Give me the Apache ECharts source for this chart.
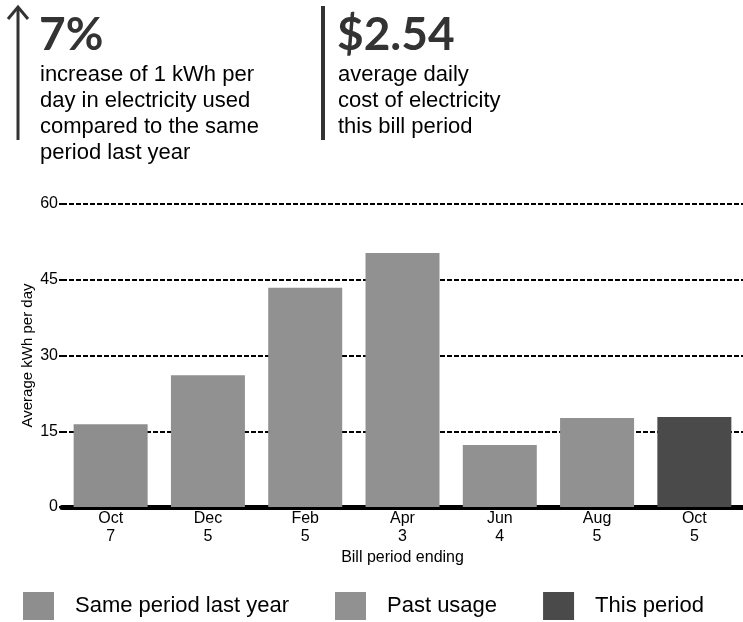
<!DOCTYPE html>
<html>
<head>
<meta charset="utf-8">
<script src="https://cdn.jsdelivr.net/npm/echarts@6/dist/echarts.min.js"></script>
<style>
  html, body { margin: 0; padding: 0; background: #fff; }
  #main { width: 743px; height: 622px; }
</style>
</head>
<body>
<div id="main"></div>
<script>
// bill periods (x axis)
var periods = ['Oct\n7', 'Dec\n5', 'Feb\n5', 'Apr\n3', 'Jun\n4', 'Aug\n5', 'Oct\n5'];
// average kWh per day, split by kind of bar
var sameLastYear = [16.4, '-', '-', '-', '-', '-', '-'];
var pastUsage    = ['-', 26.1, 43.4, 50.3, 12.3, 17.6, '-'];
var thisPeriod   = ['-', '-', '-', '-', '-', '-', 17.8];
var yTicks = { min: 0, max: 60, step: 15 };

var font = 'Liberation Sans, Arial, sans-serif';
var bigFont = 'bold 46px Lato, sans-serif';
var myChart = echarts.init(document.getElementById('main'));

function barSeries(name, values, color) {
	return {
		name: name,
		type: 'bar',
		stack: 'kwh',
		data: values,
		barWidth: 74,
		itemStyle: { color: color },
		emphasis: { disabled: true }
	};
}

myChart.setOption({
	animation: false,
	grid: { left: 62, right: -4, top: 204, bottom: 115 },
	legend: {
		left: 23, top: 592,
		padding: 0,
		itemWidth: 31, itemHeight: 28,
		itemGap: 46,
		icon: 'rect',
		textStyle: { fontFamily: font, fontSize: 22, color: '#000', padding: [2, 0, 0, 16] },
		data: ['Same period last year', 'Past usage', 'This period']
	},
	xAxis: {
		type: 'category',
		data: periods,
		name: 'Bill period ending',
		nameLocation: 'middle',
		nameGap: 43,
		nameTextStyle: { fontFamily: font, fontSize: 16, color: '#000' },
		axisLine: { lineStyle: { color: '#000', width: 5 } },
		axisTick: { show: false },
		axisLabel: { fontFamily: font, fontSize: 16, color: '#000', margin: 3, lineHeight: 18 }
	},
	yAxis: {
		type: 'value',
		min: yTicks.min, max: yTicks.max, interval: yTicks.step,
		name: 'Average kWh per day',
		nameLocation: 'middle',
		nameGap: 27,
		nameMoveOverlap: false,
		nameTextStyle: { fontFamily: font, fontSize: 15, color: '#000' },
		axisLine: { show: false },
		axisTick: { show: true, length: 3, lineStyle: { color: '#000', width: 2 } },
		axisLabel: { fontFamily: font, fontSize: 16, color: '#000', margin: 4 },
		splitLine: { lineStyle: { color: '#000', width: 2, type: [5, 2] } }
	},
	series: [
		barSeries('Same period last year', sameLastYear, '#8e8e8e'),
		barSeries('Past usage', pastUsage, '#919191'),
		barSeries('This period', thisPeriod, '#4a4a4a')
	],
	graphic: [
		// arrow
		{ type: 'line', shape: { x1: 18, y1: 140, x2: 18, y2: 8 }, style: { stroke: '#333', lineWidth: 3 } },
		{ type: 'polyline', shape: { points: [[8, 19], [18, 7], [28, 19]] }, style: { stroke: '#333', lineWidth: 3, fill: null } },
		{ type: 'text', left: 39, top: 12, style: { text: '7%', font: bigFont, fill: '#333' } },
		{ type: 'text', left: 40, top: 62, style: { text: 'increase of 1 kWh per\nday in electricity used\ncompared to the same\nperiod last year', font: '22px ' + font, lineHeight: 26, fill: '#000' } },
		// divider
		{ type: 'rect', shape: { x: 321, y: 6, width: 4, height: 134 }, style: { fill: '#333' } },
		{ type: 'text', left: 337, top: 12, style: { text: '$2.54', font: bigFont, fill: '#333' } },
		{ type: 'text', left: 338, top: 62, style: { text: 'average daily\ncost of electricity\nthis bill period', font: '22px ' + font, lineHeight: 26, fill: '#000' } }
	]
});
</script>
</body>
</html>
